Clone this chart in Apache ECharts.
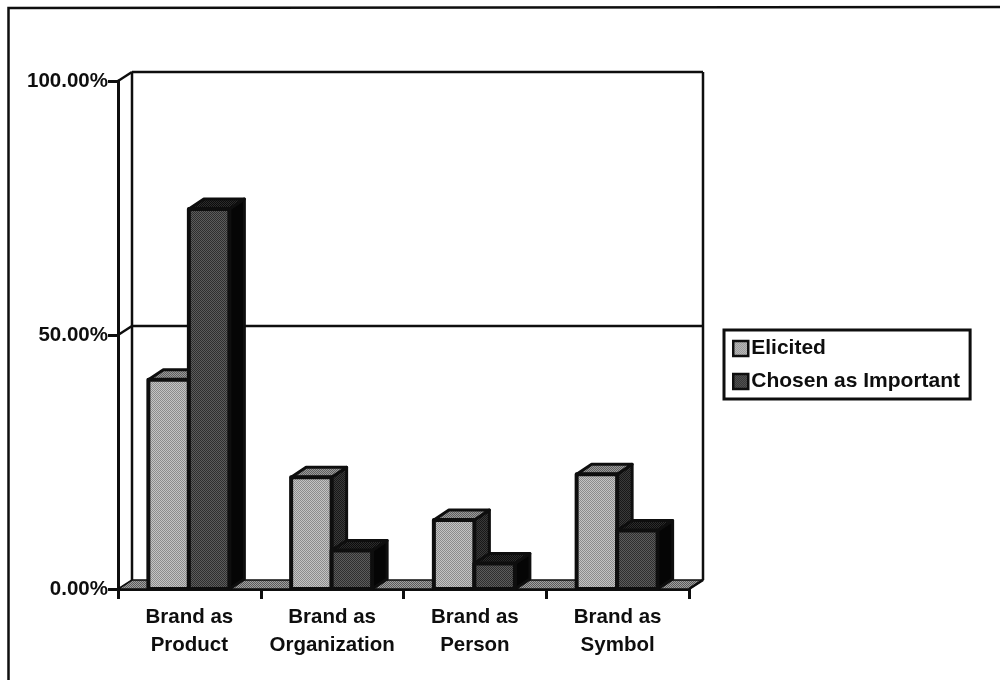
<!DOCTYPE html>
<html>
<head>
<meta charset="utf-8">
<style>html,body{margin:0;padding:0;background:#fff}#chart{width:1000px;height:680px}</style>
<script src="https://cdn.jsdelivr.net/npm/echarts@6/dist/echarts.min.js"></script>
</head>
<body>
<div id="chart"></div>
<script>
const categories = ['Brand as\nProduct', 'Brand as\nOrganization', 'Brand as\nPerson', 'Brand as\nSymbol'];
const elicited = [41.2, 22, 13.6, 22.6];
const chosenAsImportant = [74.8, 7.6, 5, 11.5];
const yTicks = [0, 50, 100];

const INK = '#0e0e0e';
// Skew of the back wall and of the bar tops, in pixels.
const WALL_DX = 14, WALL_DY = -9;
const BAR_DX = 15, BAR_DY = -10;
const BAR_WIDTH = 40.5, BAR_SHIFT = -0.5;

// Halftone fill: a fine two-tone checker that reads as a mid grey.
function halftone(a, b) {
  const c = document.createElement('canvas');
  c.width = c.height = 2;
  const g = c.getContext('2d');
  g.fillStyle = a; g.fillRect(0, 0, 2, 2);
  g.fillStyle = b; g.fillRect(0, 0, 1, 1); g.fillRect(1, 1, 1, 1);
  return { image: c, repeat: 'repeat' };
}
const LIGHT_FACE = halftone('#c4c4c4', '#8c8c8c');
const LIGHT_TOP = halftone('#9a9a9a', '#5e5e5e');
const DARK_FACE = halftone('#5c5c5c', '#2e2e2e');
const DARK_TOP = halftone('#2c2c2c', '#0c0c0c');
const DARK_SIDE = halftone('#3a3a3a', '#181818');
const FLOOR = halftone('#a0a0a0', '#5a5a5a');

function poly(points, fill, width) {
  return {
    type: 'polygon',
    shape: { points },
    style: { fill, stroke: INK, lineWidth: width, lineJoin: 'round' }
  };
}

// Back wall, its gridlines and the floor, all placed through the axis scales.
function renderWall(params, api) {
  if (params.dataIndex !== 0) return;
  const y0 = api.coord([0, 0]);
  const y50 = api.coord([0, 50]);
  const y100 = api.coord([0, 100]);
  const left = params.coordSys.x, right = left + params.coordSys.width;
  const seg = (x1, y1, x2, y2, w) => ({
    type: 'line', shape: { x1, y1, x2, y2 },
    style: { stroke: INK, lineWidth: w, fill: null }
  });
  const bx = WALL_DX, by = WALL_DY;
  return {
    type: 'group',
    children: [
      poly([[left, y0[1]], [left + bx, y0[1] + by], [right + bx, y0[1] + by], [right, y0[1]]], FLOOR, 1.5),
      seg(left + bx, y0[1] + by, left + bx, y100[1] + by, 2.5),
      seg(right + bx, y0[1] + by, right + bx, y100[1] + by, 2.5),
      seg(left + bx, y100[1] + by, right + bx, y100[1] + by, 2.5),
      seg(left + bx, y50[1] + by, right + bx, y50[1] + by, 2.5),
      seg(left, y100[1], left + bx, y100[1] + by, 2.5),
      seg(left, y50[1], left + bx, y50[1] + by, 2.5),
      seg(right, y0[1], right + bx, y0[1] + by, 2.5)
    ]
  };
}

// One extruded bar: side and top faces first, then the front face.
function barRenderer(offset, face, top, side) {
  return function (params, api) {
    const base = api.coord([api.value(0), 0]);
    const head = api.coord([api.value(0), api.value(1)]);
    const x0 = base[0] + BAR_SHIFT + offset * BAR_WIDTH;
    const x1 = x0 + BAR_WIDTH;
    const yb = base[1], yt = head[1];
    return {
      type: 'group',
      children: [
        poly([[x1, yb], [x1 + BAR_DX, yb + BAR_DY], [x1 + BAR_DX, yt + BAR_DY], [x1, yt]], side, 3),
        poly([[x0, yt], [x0 + BAR_DX, yt + BAR_DY], [x1 + BAR_DX, yt + BAR_DY], [x1, yt]], top, 3),
        poly([[x0, yb], [x0, yt], [x1, yt], [x1, yb]], face, 4)
      ]
    };
  };
}

const chart = echarts.init(document.getElementById('chart'));
chart.setOption({
  animation: false,
  backgroundColor: '#fff',
  graphic: [{
    type: 'polyline',
    shape: { points: [[8.5, 680], [8.5, 8], [1000, 7]] },
    style: { stroke: INK, lineWidth: 2.5, fill: null },
    silent: true
  }],
  grid: { left: 118, right: 311, top: 81, bottom: 91 },
  legend: {
    orient: 'vertical',
    left: 724, top: 330,
    padding: [8, 10, 7, 8],
    itemGap: 12,
    itemWidth: 15, itemHeight: 15,
    borderColor: INK, borderWidth: 3,
    icon: 'rect',
    textStyle: { fontFamily: 'Liberation Sans', fontWeight: 'bold', fontSize: 21, color: INK, padding: [0, 0, 0, -2] },
    data: [
      { name: 'Elicited', itemStyle: { color: LIGHT_FACE, borderColor: INK, borderWidth: 2.5 } },
      { name: 'Chosen as Important', itemStyle: { color: DARK_FACE, borderColor: INK, borderWidth: 2.5 } }
    ]
  },
  xAxis: {
    type: 'category',
    data: categories,
    boundaryGap: true,
    axisLine: { lineStyle: { color: INK, width: 3 } },
    axisTick: { show: true, interval: 0, length: 10, lineStyle: { color: INK, width: 3 } },
    axisLabel: { interval: 0, color: INK, fontFamily: 'Liberation Sans', fontWeight: 'bold', fontSize: 20.5, lineHeight: 28, margin: 14 }
  },
  yAxis: {
    type: 'value',
    min: 0, max: 100, interval: 50,
    splitLine: { show: false },
    axisLine: { show: true, lineStyle: { color: INK, width: 3 } },
    axisTick: { show: true, length: 10, lineStyle: { color: INK, width: 3 } },
    axisLabel: {
      color: INK, fontFamily: 'Liberation Sans', fontWeight: 'bold', fontSize: 20.5, margin: 10,
      formatter: v => yTicks.includes(v) ? v.toFixed(2) + '%' : ''
    }
  },
  series: [
    {
      type: 'custom', name: 'wall', silent: true, z: 1,
      renderItem: renderWall,
      data: categories.map((c, i) => [i, 0]),
      encode: { x: 0, y: 1 }
    },
    {
      type: 'custom', name: 'Elicited', z: 2,
      itemStyle: { color: '#a8a8a8' },
      renderItem: barRenderer(-1, LIGHT_FACE, LIGHT_TOP, DARK_SIDE),
      data: elicited.map((v, i) => [i, v]),
      encode: { x: 0, y: 1 }
    },
    {
      type: 'custom', name: 'Chosen as Important', z: 3,
      itemStyle: { color: '#444444' },
      renderItem: barRenderer(0, DARK_FACE, DARK_TOP, '#050505'),
      data: chosenAsImportant.map((v, i) => [i, v]),
      encode: { x: 0, y: 1 }
    }
  ]
});
</script>
</body>
</html>
